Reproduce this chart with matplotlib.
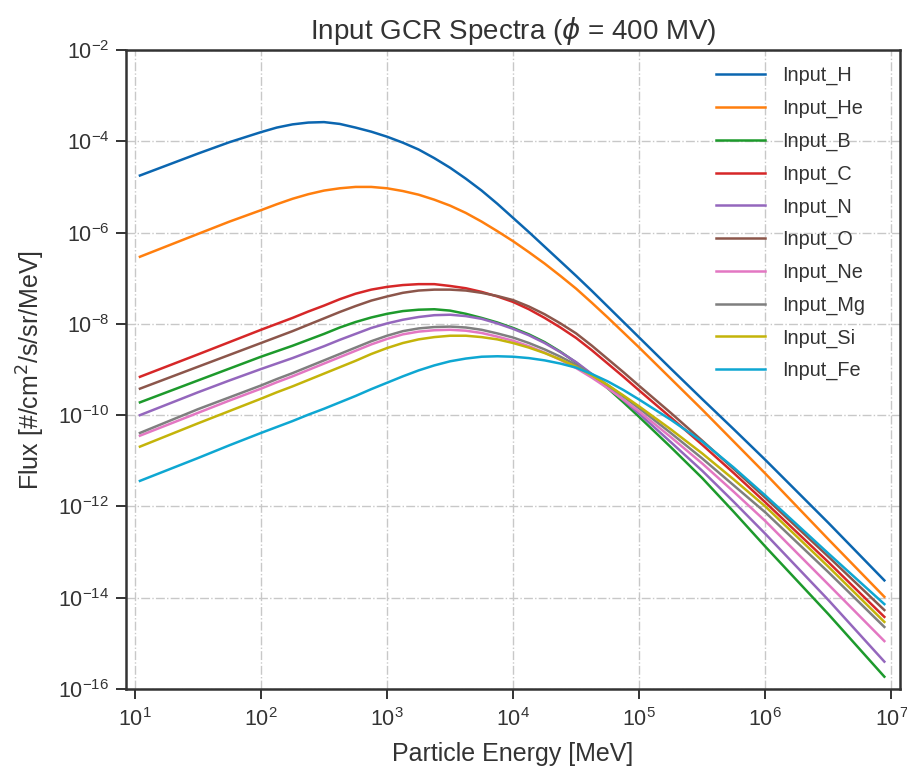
import numpy as np
import matplotlib
matplotlib.use("Agg")
import matplotlib.pyplot as plt

# log10 of particle energy [MeV] at which the curves were read
log_energy = [1.04, 1.5, 1.75, 2.0, 2.125, 2.25, 2.375, 2.5, 2.625, 2.75, 2.875,
              3.0, 3.125, 3.25, 3.375, 3.5, 3.625, 3.75, 3.875, 4.0, 4.125,
              4.25, 4.375, 4.5, 4.625, 4.75, 4.875, 5.0, 5.25, 5.5, 5.75,
              6.0, 6.5, 6.944]

# log10 of flux [#/cm2/s/sr/MeV]
flux_H  = [-4.75, -4.27, -4.02, -3.80, -3.70, -3.63, -3.59, -3.58, -3.62, -3.70, -3.79,
           -3.90, -4.03, -4.18, -4.37, -4.58, -4.82, -5.08, -5.37, -5.68, -5.99,
           -6.31, -6.63, -6.95, -7.28, -7.62, -7.96, -8.30, -8.98, -9.65, -10.31,
           -10.98, -12.36, -13.62]
flux_He = [-6.53, -6.03, -5.76, -5.51, -5.38, -5.26, -5.16, -5.08, -5.03, -5.00, -5.00,
           -5.03, -5.09, -5.17, -5.28, -5.41, -5.57, -5.76, -5.97, -6.19, -6.43,
           -6.68, -6.95, -7.23, -7.54, -7.86, -8.19, -8.52, -9.20, -9.88, -10.58,
           -11.28, -12.72, -13.98]
flux_B  = [-9.72, -9.24, -8.98, -8.72, -8.60, -8.48, -8.35, -8.22, -8.08, -7.96, -7.86,
           -7.78, -7.72, -7.69, -7.68, -7.71, -7.78, -7.87, -7.97, -8.09, -8.23,
           -8.40, -8.61, -8.85, -9.12, -9.41, -9.72, -10.04, -10.70, -11.38, -12.12,
           -12.88, -14.36, -15.73]
flux_C  = [-9.16, -8.67, -8.40, -8.13, -8.00, -7.87, -7.73, -7.60, -7.46, -7.34, -7.25,
           -7.19, -7.15, -7.13, -7.13, -7.17, -7.22, -7.30, -7.40, -7.52, -7.68,
           -7.87, -8.08, -8.31, -8.58, -8.87, -9.16, -9.46, -10.05, -10.65, -11.27,
           -11.91, -13.22, -14.42]
flux_N  = [-10.00, -9.50, -9.24, -8.99, -8.87, -8.75, -8.62, -8.49, -8.35, -8.22, -8.09,
           -7.99, -7.91, -7.85, -7.81, -7.80, -7.83, -7.89, -7.99, -8.11, -8.25,
           -8.42, -8.62, -8.84, -9.10, -9.38, -9.67, -9.97, -10.59, -11.22, -11.90,
           -12.60, -14.05, -15.40]
flux_O  = [-9.42, -8.94, -8.68, -8.42, -8.29, -8.16, -8.02, -7.88, -7.74, -7.61, -7.49,
           -7.40, -7.32, -7.27, -7.25, -7.25, -7.27, -7.32, -7.39, -7.48, -7.62,
           -7.79, -7.99, -8.21, -8.48, -8.77, -9.06, -9.36, -9.95, -10.56, -11.18,
           -11.81, -13.10, -14.27]
flux_Ne = [-10.45, -9.95, -9.68, -9.42, -9.28, -9.15, -9.01, -8.87, -8.73, -8.59, -8.45,
           -8.33, -8.23, -8.17, -8.14, -8.13, -8.15, -8.20, -8.28, -8.37, -8.49,
           -8.63, -8.79, -8.97, -9.18, -9.41, -9.66, -9.92, -10.48, -11.06, -11.68,
           -12.32, -13.71, -14.95]
flux_Mg = [-10.39, -9.87, -9.61, -9.35, -9.21, -9.08, -8.94, -8.80, -8.66, -8.52, -8.38,
           -8.26, -8.16, -8.10, -8.07, -8.06, -8.08, -8.13, -8.21, -8.30, -8.42,
           -8.56, -8.72, -8.90, -9.11, -9.34, -9.59, -9.85, -10.39, -10.95, -11.54,
           -12.13, -13.44, -14.64]
flux_Si = [-10.69, -10.18, -9.91, -9.64, -9.50, -9.37, -9.23, -9.09, -8.95, -8.81, -8.66,
           -8.53, -8.42, -8.34, -8.29, -8.26, -8.26, -8.29, -8.34, -8.42, -8.52,
           -8.64, -8.78, -8.94, -9.13, -9.34, -9.57, -9.81, -10.31, -10.84, -11.41,
           -12.00, -13.32, -14.53]
flux_Fe = [-11.44, -10.94, -10.66, -10.39, -10.26, -10.13, -9.99, -9.86, -9.72, -9.58, -9.43,
           -9.29, -9.15, -9.02, -8.91, -8.82, -8.76, -8.72, -8.71, -8.72, -8.75,
           -8.80, -8.87, -8.96, -9.10, -9.26, -9.45, -9.66, -10.10, -10.58, -11.15,
           -11.76, -13.03, -14.14]

labels = ["Input_H", "Input_He", "Input_B", "Input_C", "Input_N",
          "Input_O", "Input_Ne", "Input_Mg", "Input_Si", "Input_Fe"]
series = [flux_H, flux_He, flux_B, flux_C, flux_N,
          flux_O, flux_Ne, flux_Mg, flux_Si, flux_Fe]
colors = ["#0b66b0", "#ff7f0e", "#1d9a2c", "#d62728", "#9467bd",
          "#8c564b", "#e377c2", "#7f7f7f", "#c4b40a", "#0ea7d2"]

plt.rcParams['font.family'] = ['Liberation Sans', 'DejaVu Sans']
plt.rcParams['text.color'] = '#333333'
plt.rcParams['axes.labelcolor'] = '#333333'
plt.rcParams['xtick.color'] = '#333333'
plt.rcParams['ytick.color'] = '#333333'

fig = plt.figure(figsize=(9.07, 7.69), dpi=100)
ax = fig.add_axes([0.1389, 0.104, 0.8534, 0.831])

E = 10.0 ** np.array(log_energy)
for lab, vals, col in zip(labels, series, colors):
    ax.plot(E, 10.0 ** np.array(vals), color=col, lw=1.8, label=lab)

ax.set_xscale('log')
ax.set_yscale('log')
ax.set_xlim(8.5, 1.17e7)
ax.set_ylim(1e-16, 1e-2)
ax.set_yticks([10.0 ** k for k in range(-16, -1, 2)])
ax.set_xticks([10.0 ** k for k in range(1, 8)])
ax.minorticks_off()

ax.grid(True, which='major', linestyle='-.', color='#c8c8c8', linewidth=1.0)
for sp in ax.spines.values():
    sp.set_color('#333333')
    sp.set_linewidth(1.8)
ax.tick_params(axis='both', which='major', direction='out', length=7, width=1.4,
               labelsize=15.5, pad=5)
ax.tick_params(axis='x', pad=7)

ax.set_title(r"Input GCR Spectra ($\phi$ = 400 MV)", fontsize=20, pad=8)
ax.set_xlabel("Particle Energy [MeV]", fontsize=18, labelpad=8)
ax.set_ylabel(r"Flux [#/cm$^2$/s/sr/MeV]", fontsize=18, labelpad=8)

leg = ax.legend(loc='upper right', bbox_to_anchor=(0.965, 0.987), borderaxespad=0,
                frameon=False, fontsize=14.3,
                handlelength=2.47, handletextpad=0.86, labelspacing=0.68)

fig.savefig("out.png", dpi=100)
